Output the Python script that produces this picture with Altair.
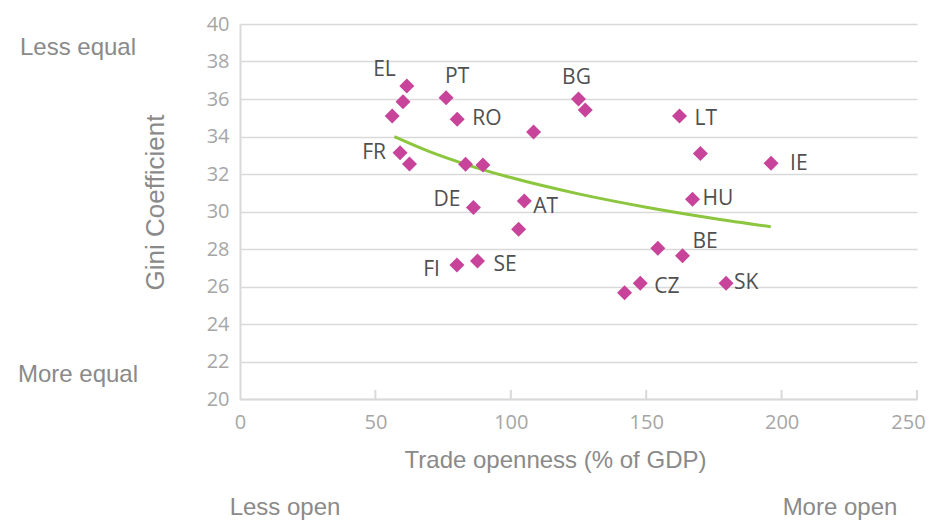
import altair as alt
import pandas as pd

# ---- data ----
codes = ["EL", "", "", "PT", "RO", "", "FR", "", "", "", "DE", "AT", "", "FI", "SE",
         "BG", "", "LT", "", "IE", "HU", "", "BE", "", "CZ", "SK"]
trade = [61.6, 60.2, 56.2, 76.1, 80.2, 108.4, 59.1, 62.6, 83.3, 89.7, 86.2, 105.0, 102.9, 80.1, 87.7,
         125.0, 127.5, 162.3, 170.0, 196.1, 167.1, 154.3, 163.4, 142.0, 147.8, 179.5]
gini = [36.7, 35.86, 35.1, 36.07, 34.92, 34.24, 33.14, 32.53, 32.52, 32.48, 30.22, 30.56, 29.05, 27.15, 27.36,
        36.0, 35.41, 35.09, 33.1, 32.57, 30.65, 28.04, 27.64, 25.67, 26.17, 26.17]

trend_x = [57, 70, 83, 100, 125, 150, 175, 196]
trend_y = [33.99, 33.19, 32.53, 31.81, 30.94, 30.23, 29.63, 29.19]

x_values = [0, 50, 100, 150, 200, 250]
y_values = [20, 22, 24, 26, 28, 30, 32, 34, 36, 38, 40]
x_ticks = [50, 100, 150, 200, 250]

side_labels = ["Less equal", "More equal", "Less open", "More open"]

# ---- styling ----
W, H = 677, 375
MAGENTA = "#c8449b"
GREEN = "#8cc63f"
GRID = "#d9d9d9"
TICK_TXT = "#a6a6a6"
TITLE_TXT = "#8a8a8a"
LABEL_TXT = "#505050"
TFONT = "Liberation Sans"
SANS = "Open Sans"
TSIZE = 24

df = pd.DataFrame({"code": codes, "trade": trade, "gini": gini})
trend = pd.DataFrame({"trade": trend_x, "gini": trend_y})
ticks = pd.DataFrame({"trade": x_ticks, "gini": [20] * len(x_ticks), "g1": [20.48] * len(x_ticks)})

xscale = alt.Scale(domain=[0, 250], nice=False)
yscale = alt.Scale(domain=[20, 40], nice=False, zero=False)

xaxis = alt.Axis(values=x_values, grid=False, ticks=False,
                 domainColor=GRID, domainWidth=2, labelFont=SANS, labelFontSize=20,
                 labelColor=TICK_TXT, labelPadding=13, labelOverlap=False, labelFlush=False,
                 labelOffset={"expr": "datum.value == 250 ? -9 : 0"},
                 title="Trade openness (% of GDP)", titleFont=TFONT, titleFontSize=TSIZE,
                 titleFontWeight="normal", titleColor=TITLE_TXT,
                 titleX=315, titleY=68, titleBaseline="alphabetic", titleAnchor="middle")
yaxis = alt.Axis(values=y_values, grid=True, gridColor=GRID, gridWidth=1.5,
                 ticks=False, domainColor=GRID, domainWidth=2, labelFont=SANS, labelFontSize=20,
                 labelColor=TICK_TXT, labelPadding=11, labelOverlap=False, labelFlush=False,
                 title="Gini Coefficient", titleFont=TFONT, titleFontSize=26,
                 titleFontWeight="normal", titleColor=TITLE_TXT, titleAngle=270,
                 titleX=-85, titleY=178, titleAlign="center", titleBaseline="middle")


def X():
    return alt.X("trade:Q", scale=xscale, axis=xaxis)


def Y():
    return alt.Y("gini:Q", scale=yscale, axis=yaxis)


base = alt.Chart(df)

line = alt.Chart(trend).mark_line(color=GREEN, strokeWidth=3, interpolate="monotone").encode(
    x=X(), y=Y()
)

tick_rules = alt.Chart(ticks).mark_rule(color=GRID, strokeWidth=2).encode(
    x=X(), y=Y(), y2="g1:Q"
)

points = base.mark_point(shape="diamond", filled=True, size=225, color=MAGENTA, opacity=1).encode(
    x=X(), y=Y()
)

# label placement: code -> (align, dx, dy)
placement = {
    "EL": ("right", -11, -16),
    "PT": ("left", -1, -21),
    "BG": ("center", -2, -21),
    "RO": ("left", 15, 0),
    "LT": ("left", 15, 3),
    "IE": ("left", 19, 1),
    "FR": ("right", -14, 0),
    "DE": ("right", -13, -7),
    "AT": ("left", 9, 6),
    "HU": ("left", 10, 0),
    "BE": ("left", 10, -14),
    "FI": ("right", -17, 5),
    "SE": ("left", 16, 4),
    "CZ": ("left", 14, 4),
    "SK": ("left", 8, 0),
}

label_layers = []
for code, (align, dx, dy) in placement.items():
    label_layers.append(
        base.transform_filter(alt.datum.code == code).mark_text(
            align=align, baseline="middle", dx=dx, dy=dy, font=SANS, fontSize=21, color=LABEL_TXT
        ).encode(x=X(), y=Y(), text="code:N")
    )


def side_text(txt, x, y, align):
    return alt.Chart(pd.DataFrame({"t": [txt]})).mark_text(
        align=align, baseline="alphabetic", font=TFONT, fontSize=TSIZE, color=TITLE_TXT
    ).encode(x=alt.value(x), y=alt.value(y), text="t:N")


annots = [
    side_text(side_labels[0], -162, 31, "center"),
    side_text(side_labels[1], -162, 358, "center"),
    side_text(side_labels[2], 45, 491, "center"),
    side_text(side_labels[3], 600, 491, "center"),
]

chart = alt.layer(line, tick_rules, points, *label_layers, *annots).properties(
    width=W, height=H,
    autosize=alt.AutoSizeParams(type="none"),
    padding={"left": 232, "top": 16, "right": 10, "bottom": 122},
).configure(background="white", view=alt.ViewConfig(stroke=None))

chart.save("out.html", embed_options={"renderer": "svg", "actions": False})
